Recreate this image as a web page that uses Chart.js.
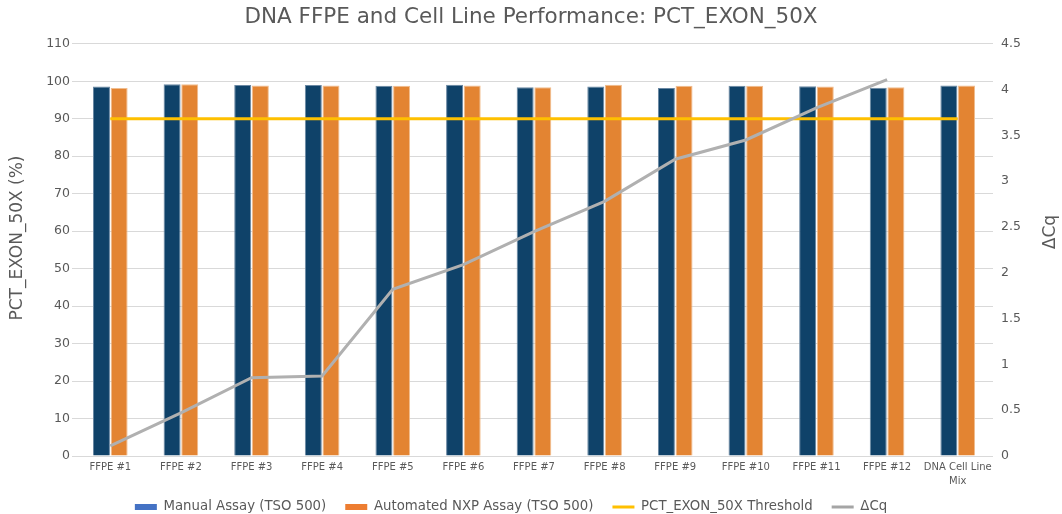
<!DOCTYPE html>
<html><head><meta charset="utf-8">
<script src="https://cdn.jsdelivr.net/npm/chart.js@4"></script>
<style>html,body{margin:0;padding:0;background:#fff}#wrap{width:1062px;height:514px}</style>
</head><body><div id="wrap"><canvas id="c"></canvas></div>
<script>
const categories = ["FFPE #1","FFPE #2","FFPE #3","FFPE #4","FFPE #5","FFPE #6","FFPE #7","FFPE #8","FFPE #9","FFPE #10","FFPE #11","FFPE #12",["DNA Cell Line","Mix"]];
const manualAssay = [98.6,99.2,99.0,99.0,98.8,99.1,98.4,98.6,98.2,98.8,98.7,98.3,98.9];
const automatedAssay = [98.2,99.2,98.9,98.9,98.8,98.9,98.4,99.1,98.8,98.8,98.6,98.4,98.9];
const threshold = [90,90,90,90,90,90,90,90,90,90,90,90,90];
const deltaCq = [0.11,0.47,0.855,0.874,1.82,2.09,2.45,2.78,3.24,3.45,3.80,4.11,null];
const leftTicks = [0,10,20,30,40,50,60,70,80,90,100,110];
const rightTicks = [0,0.5,1,1.5,2,2.5,3,3.5,4,4.5];

const FONT = "'DejaVu Sans', sans-serif";
const TXT = '#595959';
const legendColors = ['#4472C4','#ED7D31','#FFC000','#A5A5A5'];
const LEG_PAD = 19, LEG_FS = 13.3;

const axisTitles = {
  id:'axisTitles',
  afterLayout(chart){
    const lg = chart.legend;
    lg.top = 507 - LEG_PAD - LEG_FS/2;
    lg.bottom = 514;
    lg.height = lg.bottom - lg.top;
    lg.left -= 20;
    lg.right -= 20;
  },
  afterDraw(chart){
    const ctx = chart.ctx;
    const draw = (txt, x, y) => {
      ctx.save();
      ctx.fillStyle = TXT;
      ctx.font = "17px " + FONT;
      ctx.textAlign = 'center';
      ctx.textBaseline = 'middle';
      ctx.translate(x, y);
      ctx.rotate(-Math.PI/2);
      ctx.fillText(txt, 0, 0);
      ctx.restore();
    };
    draw('PCT_EXON_50X (%)', 18, 238);
    draw('ΔCq', 1051, 232);
  }
};

new Chart(document.getElementById('c'), {
  data: {
    labels: categories,
    datasets: [
      {type:'bar', label:'Manual Assay (TSO 500)', data: manualAssay, yAxisID:'y', backgroundColor:'#0F4269', borderColor:'#6A88A3', borderWidth:{top:1,left:1,right:1,bottom:0}, categoryPercentage:0.5, barPercentage:0.962, order:2},
      {type:'bar', label:'Automated NXP Assay (TSO 500)', data: automatedAssay, yAxisID:'y', backgroundColor:'#E38432', borderColor:'#F0BD8F', borderWidth:{top:1,left:1,right:1,bottom:0}, categoryPercentage:0.5, barPercentage:0.962, order:3},
      {type:'line', label:'PCT_EXON_50X Threshold', data: threshold, yAxisID:'y', borderColor:'#FFC000', borderWidth:3, pointRadius:0, order:1},
      {type:'line', label:'ΔCq', data: deltaCq, yAxisID:'y1', borderColor:'#B0B0B0', borderWidth:3, pointRadius:0, order:0}
    ]
  },
  plugins:[axisTitles],
  options: {
    responsive:true, maintainAspectRatio:false, animation:false,
    layout:{padding:{left:0,right:0,top:0,bottom:0}},
    plugins:{
      title:{display:true, text:'DNA FFPE and Cell Line Performance: PCT_EXON_50X', color:TXT, font:{family:FONT, size:21.5, weight:'normal', lineHeight:1.2}, padding:{top:5,bottom:13}},
      legend:{position:'bottom', maxHeight:26, labels:{
        font:{family:FONT,size:LEG_FS}, color:TXT, usePointStyle:true, pointStyleWidth:22, boxHeight:6, padding:LEG_PAD,
        generateLabels:(chart)=>{
          return chart.data.datasets.map((ds,k)=>{
            const isLine = ds.type==='line';
            return {text:ds.label, fillStyle:legendColors[k], strokeStyle:legendColors[k], lineWidth:isLine?3:0, pointStyle:isLine?'line':'rect', datasetIndex:k, fontColor:TXT};
          });
        }}},
      tooltip:{enabled:false}
    },
    scales:{
      x:{offset:true, grid:{display:false, drawTicks:false}, border:{display:false},
         ticks:{color:TXT, font:{family:FONT,size:10,lineHeight:1.4}, maxRotation:0, autoSkip:false, padding:4},
         afterFit:(s)=>{s.height=32;}},
      y:{position:'left', min:0, max:110, afterBuildTicks:(a)=>{a.ticks=leftTicks.map(v=>({value:v}));},
         grid:{color:'#D9D9D9', drawTicks:true, tickLength:3}, border:{display:false},
         ticks:{color:TXT, font:{family:FONT,size:12.5}, padding:2},
         afterFit:(s)=>{s.width=75;}},
      y1:{position:'right', min:0, max:4.5, afterBuildTicks:(a)=>{a.ticks=rightTicks.map(v=>({value:v}));},
         grid:{display:false, drawTicks:false}, border:{display:false},
         ticks:{color:TXT, font:{family:FONT,size:12.5}, padding:8, callback:(v)=>String(v)},
         afterFit:(s)=>{s.width=69;}}
    }
  }
});
</script></body></html>
